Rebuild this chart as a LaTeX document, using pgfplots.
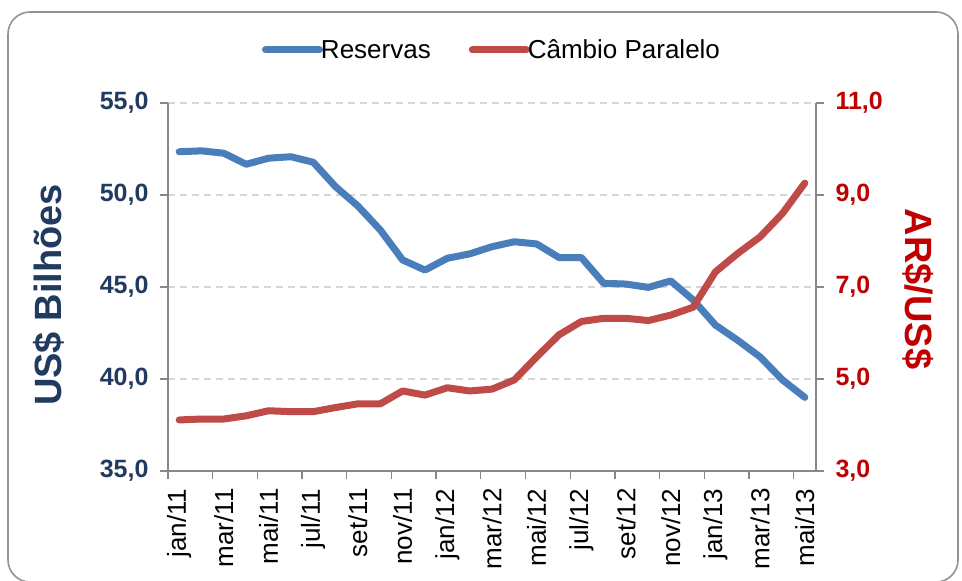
\documentclass[border=0pt]{standalone}
\usepackage{pgfplots}
\pgfplotsset{compat=1.18}
\usepackage{pgfplotstable}
\usepackage{fontspec}
\setmainfont{Liberation Sans}
\definecolor{navy}{HTML}{203A60}
\definecolor{dred}{HTML}{C00000}
\definecolor{lblue}{HTML}{4A7EBB}
\definecolor{lred}{HTML}{BE4B48}
\definecolor{axgray}{HTML}{878787}
\newcommand\fs[1]{\fontsize{#1}{#1}\selectfont}
\pgfplotstableread{
idx res cam
0 52.35 4.11
1 52.40 4.13
2 52.27 4.13
3 51.67 4.20
4 52.00 4.31
5 52.08 4.29
6 51.78 4.29
7 50.45 4.38
8 49.40 4.46
9 48.10 4.46
10 46.47 4.74
11 45.92 4.65
12 46.56 4.81
13 46.80 4.74
14 47.19 4.78
15 47.46 4.98
16 47.34 5.48
17 46.60 5.96
18 46.60 6.25
19 45.20 6.32
20 45.16 6.32
21 44.98 6.27
22 45.33 6.39
23 44.30 6.56
24 42.93 7.33
25 42.10 7.73
26 41.20 8.09
27 39.95 8.60
28 39.00 9.26
}\data
\begin{document}
\begin{tikzpicture}
\useasboundingbox (-168pt,-110pt) rectangle (794pt,471pt);
\draw[axgray!90, line width=1.6pt, rounded corners=22pt] (-160pt,-111pt) rectangle (790pt,459pt);
\begin{axis}[
  at={(0pt,0pt)}, anchor=south west,
  scale only axis, width=648pt, height=368pt,
  xmin=-0.5, xmax=28.5, ymin=35, ymax=55,
  axis y line*=left, axis x line*=bottom,
  axis line style={axgray, line width=1.3pt},
  tick align=outside, major tick length=8pt,
  ytick={35,40,45,50,55},
  yticklabels={{35,0},{40,0},{45,0},{50,0},{55,0}},
  yticklabel style={font=\fs{25}\bfseries, text=navy, xshift=-8pt},
  ytick style={axgray, line width=1.3pt},
  ymajorgrids, grid style={dashed, dash pattern=on 7pt off 5pt, color=black!16, line width=1.3pt},
  xtick={0,2,...,28},
  xticklabels={jan/11,mar/11,mai/11,jul/11,set/11,nov/11,jan/12,mar/12,mai/12,jul/12,set/12,nov/12,jan/13,mar/13,mai/13},
  xticklabel style={rotate=90, anchor=east, font=\fs{26}, text=black, xshift=-6pt},
  xtick style={draw=none},
  extra x ticks={-0.5,1.5,...,27.5},
  extra x tick labels={},
  extra x tick style={grid=none, xtick style={draw=axgray, line width=1.3pt}},
  ylabel={US\$ Bilhões},
  every axis y label/.style={at={(rel axis cs:0,0.5)}, xshift=-119pt, yshift=-8pt, rotate=90, anchor=center, font=\fs{38}\bfseries, text=navy},
  legend style={at={(rel axis cs:0.5,1)}, anchor=center, yshift=53pt, draw=none, fill=none, font=\fs{26},
    legend columns=2, /tikz/every even column/.append style={column sep=36pt}, inner sep=0pt},
  legend image code/.code={\draw[#1, line cap=round] (0pt,0pt) -- (54pt,0pt);},
  clip=false,
]
\addplot[lblue, line width=7pt, line join=round, line cap=round] table[x=idx, y=res] {\data};
\addlegendentry{\hspace{-4pt}Reservas}
\addlegendimage{lred, line width=7pt}
\addlegendentry{\hspace{-4pt}Câmbio Paralelo}
\end{axis}
\begin{axis}[
  at={(0pt,0pt)}, anchor=south west,
  scale only axis, width=648pt, height=368pt,
  xmin=-0.5, xmax=28.5, ymin=3, ymax=11,
  axis y line*=right, axis x line=none,
  axis line style={axgray, line width=1.3pt},
  tick align=outside, major tick length=8pt,
  ytick={3,5,7,9,11},
  yticklabels={{3,0},{5,0},{7,0},{9,0},{11,0}},
  yticklabel style={font=\fs{25}\bfseries, text=dred, xshift=8pt},
  ytick style={axgray, line width=1.3pt},
  ylabel={AR\$/US\$},
  every axis y label/.style={at={(rel axis cs:1,0.5)}, xshift=102pt, yshift=-2pt, rotate=-90, anchor=center, font=\fs{38}\bfseries, text=dred},
  clip=false,
]
\addplot[lred, line width=7pt, line join=round, line cap=round] table[x=idx, y=cam] {\data};
\end{axis}
\end{tikzpicture}
\end{document}
